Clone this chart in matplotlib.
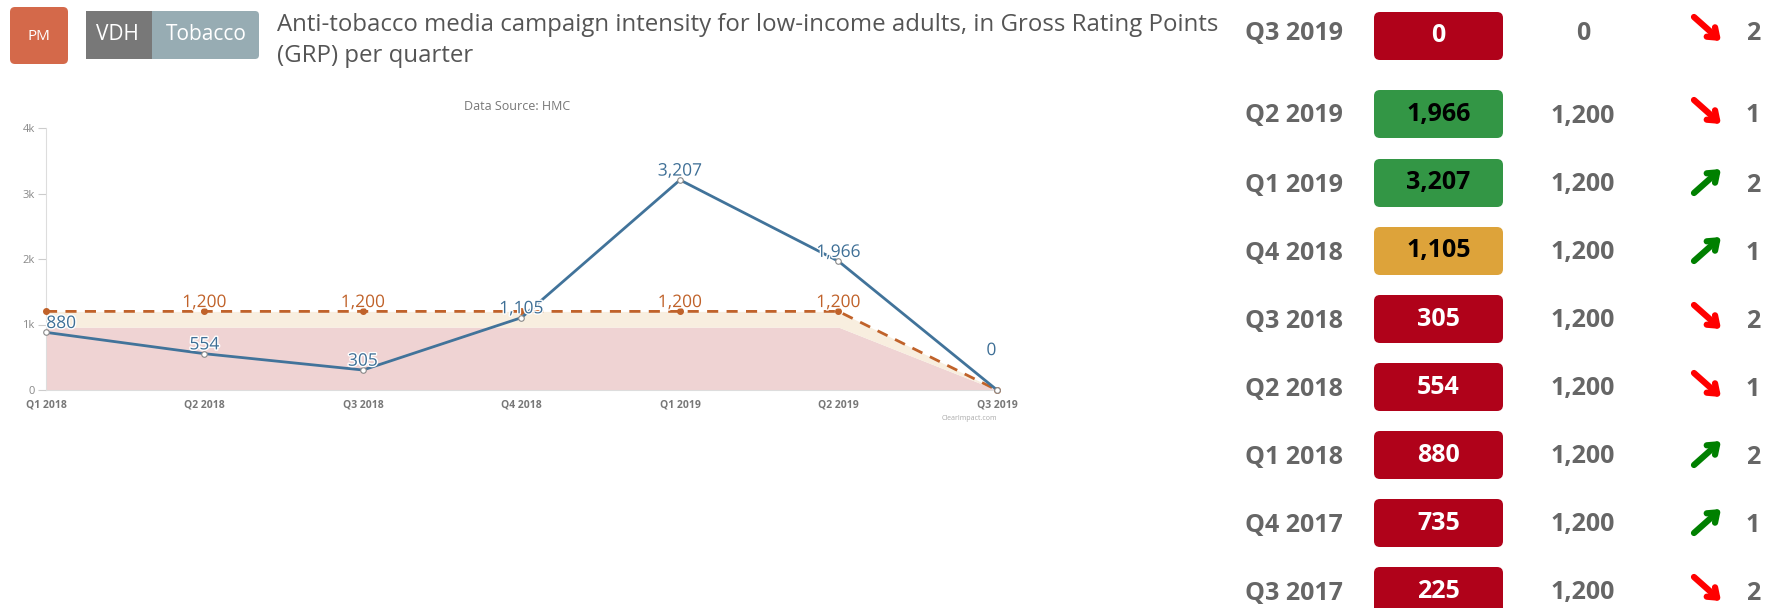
import matplotlib
matplotlib.use('Agg')
import matplotlib.pyplot as plt
from matplotlib.patches import FancyBboxPatch, Rectangle
import matplotlib.patheffects as pe

plt.rcParams['font.family'] = ['Open Sans', 'DejaVu Sans']

# chart data (chronological)
chart_quarters = ['Q1 2018', 'Q2 2018', 'Q3 2018', 'Q4 2018', 'Q1 2019', 'Q2 2019', 'Q3 2019']
chart_values = [880, 554, 305, 1105, 3207, 1966, 0]
chart_targets = [1200, 1200, 1200, 1200, 1200, 1200, 0]
target_label_idx = [1, 2, 4, 5]
yticks = [0, 1000, 2000, 3000, 4000]
ytick_labels = ['0', '1k', '2k', '3k', '4k']

# table data (newest first)
periods = ['Q3 2019', 'Q2 2019', 'Q1 2019', 'Q4 2018', 'Q3 2018', 'Q2 2018', 'Q1 2018', 'Q4 2017', 'Q3 2017']
actuals = [0, 1966, 3207, 1105, 305, 554, 880, 735, 225]
targets = [0, 1200, 1200, 1200, 1200, 1200, 1200, 1200, 1200]
status = ['red', 'green', 'green', 'orange', 'red', 'red', 'red', 'red', 'red']
trend_dir = ['down', 'down', 'up', 'up', 'down', 'down', 'up', 'up', 'down']
trend_count = [2, 1, 2, 1, 2, 1, 2, 1, 2]

W, H = 1777, 608
fig = plt.figure(figsize=(W / 100, H / 100), dpi=100)

# overlay in pixel coords for header + table
ov = fig.add_axes([0, 0, 1, 1])
ov.set_xlim(0, W)
ov.set_ylim(H, 0)
ov.axis('off')

# header badges
ov.add_patch(FancyBboxPatch((10, 7), 58, 57, boxstyle='round,pad=0,rounding_size=5',
                            fc='#D4694A', ec='none'))
ov.text(39, 36, 'PM', color='white', fontsize=11, ha='center', va='center')
ov.add_patch(Rectangle((86, 11), 66, 48, fc='#787878', ec='none'))
ov.add_patch(FancyBboxPatch((152, 11), 107, 48, boxstyle='round,pad=0,rounding_size=4',
                            fc='#97ACB3', ec='none'))
ov.add_patch(Rectangle((152, 11), 10, 48, fc='#97ACB3', ec='none'))
ov.text(117, 35, 'VDH', color='white', fontsize=15, ha='center', va='center')
ov.text(206, 35, 'Tobacco', color='white', fontsize=15, ha='center', va='center')
ov.text(277, 25, 'Anti-tobacco media campaign intensity for low-income adults, in Gross Rating Points',
        color='#555555', fontsize=17.3, ha='left', va='center')
ov.text(277, 56, '(GRP) per quarter', color='#555555', fontsize=17.3, ha='left', va='center')

# table
box_colors = {'red': '#B0021A', 'green': '#339645', 'orange': '#DDA33A'}
box_text = {'red': 'white', 'green': 'black', 'orange': 'black'}
row_y = [33, 116, 185, 253, 321, 389, 457, 525, 593]
for i, p in enumerate(periods):
    y = row_y[i]
    ov.text(1294, y, p, color='#666666', fontsize=18, fontweight='bold', ha='center', va='center')
    by = y - 26 if i else y - 21
    ov.add_patch(FancyBboxPatch((1374, by), 129, 48,
                                boxstyle='round,pad=0,rounding_size=6',
                                fc=box_colors[status[i]], ec='none'))
    ov.text(1438.5, by + 24, f'{actuals[i]:,}', color=box_text[status[i]],
            fontsize=18, fontweight='bold', ha='center', va='center')
    ov.text(1583, y, f'{targets[i]:,}', color='#666666', fontsize=18, fontweight='bold',
            ha='center', va='center')
    ay = y - 4
    if trend_dir[i] == 'down':
        ov.annotate('', xy=(1721, ay + 12), xytext=(1694, ay - 12),
                    arrowprops=dict(arrowstyle='->,head_length=0.6,head_width=0.45',
                                    lw=4.5, color='#FF0000', capstyle='round',
                                    shrinkA=0, shrinkB=0))
    else:
        ov.annotate('', xy=(1721, ay - 12), xytext=(1694, ay + 12),
                    arrowprops=dict(arrowstyle='->,head_length=0.6,head_width=0.45',
                                    lw=4.5, color='#008000', capstyle='round',
                                    shrinkA=0, shrinkB=0))
    ov.text(1753, y, str(trend_count[i]), color='#666666', fontsize=18, fontweight='bold',
            ha='center', va='center')

# line chart
ax = fig.add_axes([46 / W, (H - 390) / H, (997 - 46) / W, (390 - 128) / H])
ax.patch.set_alpha(0)
x = list(range(len(chart_quarters)))
low = [0.8 * t for t in chart_targets]
ax.fill_between(x, 0, low, color='#EFD3D3', lw=0, zorder=1)
ax.fill_between(x, low, chart_targets, color='#F8EEDF', lw=0, zorder=1)
ax.plot(x, chart_targets, color='#C0622A', lw=2, ls=(0, (4, 3)), marker='o', ms=4,
        mfc='#C0622A', mec='#C0622A', zorder=3)
ax.plot(x, chart_values, color='#41739A', lw=2, marker='o', ms=4, mfc='white',
        mec='#888888', mew=0.8, zorder=4)
halo = [pe.withStroke(linewidth=2, foreground='white')]
for i, v in enumerate(chart_values):
    dy = 6
    dx = 0
    if i == 0:
        dx = 11
    if i == len(chart_values) - 1:
        dy = 28
        dx = -4
    ax.annotate(f'{v:,}', (i, v), xytext=(dx, dy), textcoords='offset points',
                ha='center', va='center', color='#3E6F96', fontsize=12.5, zorder=6,
                path_effects=halo)
for i in target_label_idx:
    ax.annotate(f'{chart_targets[i]:,}', (i, chart_targets[i]), xytext=(0, 6),
                textcoords='offset points', ha='center', va='center', color='#C0622A',
                fontsize=12.5, zorder=5, path_effects=halo)
ax.set_xlim(0, len(chart_quarters) - 1)
ax.set_ylim(0, 4000)
ax.set_yticks(yticks)
ax.set_yticklabels(ytick_labels)
ax.set_xticks(x)
ax.set_xticklabels(chart_quarters)
for s in ['top', 'right']:
    ax.spines[s].set_visible(False)
ax.spines['left'].set_color('#DDDDDD')
ax.spines['bottom'].set_color('#DDDDDD')
ax.tick_params(axis='y', length=6, color='#CCCCCC', labelcolor='#888888', labelsize=8, pad=2)
ax.tick_params(axis='x', length=0, labelcolor='#777777', labelsize=7.5, pad=7)
for lbl in ax.get_xticklabels():
    lbl.set_fontweight('bold')
for a in ax.lines:
    a.set_clip_on(False)

ov.text(517, 107, 'Data Source: HMC', color='#777777', fontsize=9, ha='center', va='center')
ov.text(997, 418, 'ClearImpact.com', color='#AAAAAA', fontsize=5, ha='right', va='center')

fig.savefig('out.png', dpi=100)
